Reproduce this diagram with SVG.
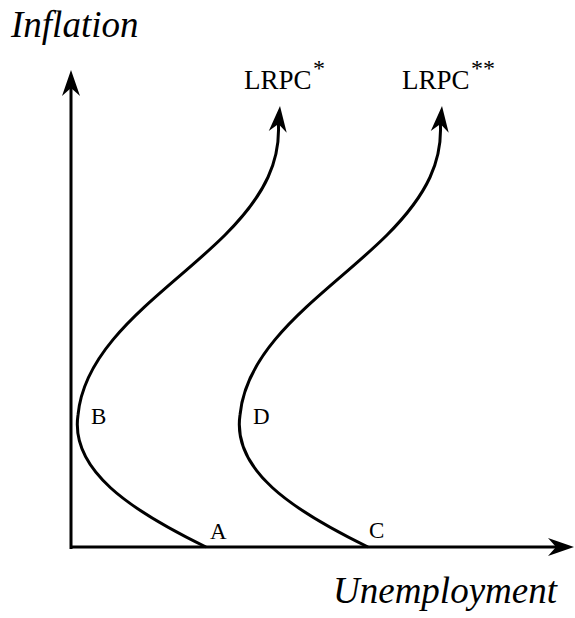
<svg xmlns="http://www.w3.org/2000/svg" width="575" height="618" viewBox="0 0 575 618">
<style>
.ln{fill:none;stroke:#000;stroke-width:3}
.ah{fill:#000}
.t{font-family:"Liberation Serif","Times New Roman",serif;fill:#000}
.ax{font-style:italic;font-size:37px}
.lb{font-size:23px}
.lr{font-size:27px}
.st{font-size:24px}
</style>
<defs>
<path id="head" d="M0,0 L9,26 L0,18 L-9,26 Z"/>
</defs>
<g id="axes">
<line class="ln" x1="71" y1="549" x2="71" y2="82"/>
<line class="ln" x1="70" y1="547" x2="562" y2="547"/>
<use href="#head" class="ah" transform="translate(71,70)"/>
<use href="#head" class="ah" transform="translate(574,547) rotate(90)"/>
</g>
<g id="connectors">
<g id="lrpc1">
<path class="ln" d="M206,547 C130,510 70,470 78,415 C85,340 170,290 225,235 C265,195 282,160 278,118"/>
<use href="#head" class="ah" transform="translate(280,106) rotate(5)"/>
</g>
<g id="lrpc2">
<path class="ln" d="M368,547 C292,510 232,470 240,415 C247,340 332,290 387,235 C427,195 444,160 440,118"/>
<use href="#head" class="ah" transform="translate(442,106) rotate(5)"/>
</g>
</g>
<g id="labels">
<text class="t ax" x="11" y="37">Inflation</text>
<text class="t ax" x="333" y="603">Unemployment</text>
<text class="t lr" x="244" y="89">LRPC</text>
<text class="t st" x="313" y="76">*</text>
<text class="t lr" x="402" y="89">LRPC</text>
<text class="t st" x="471" y="76">**</text>
<text class="t lb" x="91" y="424">B</text>
<text class="t lb" x="253" y="424">D</text>
<text class="t lb" x="210" y="539">A</text>
<text class="t lb" x="369" y="538">C</text>
</g>
</svg>
